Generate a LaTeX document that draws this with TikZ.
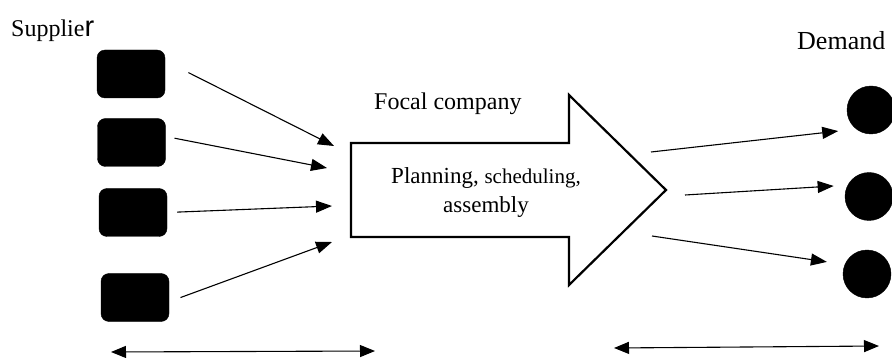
\documentclass[tikz,border=0pt]{standalone}
\usepackage{fontspec}
\setmainfont{Liberation Serif}
\setsansfont{Liberation Sans}
\usetikzlibrary{arrows.meta}

\tikzset{
  supbox/.style={rectangle, rounded corners=8pt, fill=black, draw=black, minimum width=68pt, minimum height=48pt, inner sep=0pt},
  demdot/.style={circle, fill=black, draw=black, minimum size=48pt, inner sep=0pt},
  flow/.style={-{Triangle[length=16pt,width=12pt]}, line width=1.1pt},
  span/.style={{Triangle[length=15pt,width=12pt]}-{Triangle[length=15pt,width=12pt]}, line width=1.1pt},
  lbl/.style={inner sep=0pt, font=\fontsize{24}{29}\selectfont}
}

\begin{document}
\begin{tikzpicture}[x=1pt,y=-1pt]
            \useasboundingbox (0,0) rectangle (892,358);

            % Supplier side
            \node[lbl, anchor=base west] (suplbl) at (11,37) {Supplie{\sffamily\fontsize{29}{30}\selectfont r}};
            \node[supbox] (s1) at (131,74) {};
            \node[supbox] (s2) at (131.5,142.5) {};
            \node[supbox] (s3) at (133,212.5) {};
            \node[supbox] (s4) at (135,297.5) {};

            % Focal company arrow
            \draw[line width=2.2pt, line join=miter] (351,143) -- (569,143) -- (569,95) -- (666,190) -- (569,285) -- (569,237) -- (351,237) -- cycle;
            \node[lbl, anchor=base west] (focal) at (374,110) {Focal company};
            \node[lbl, align=center, font=\fontsize{23}{29}\selectfont] (plan) at (486,193) {Planning, {\fontsize{21}{29}\selectfont scheduling,}\\assembly};

            % Demand side
            \node[lbl, anchor=base west, font=\fontsize{26}{30}\selectfont] (demlbl) at (797,50) {Demand};
            \node[demdot] (d1) at (871,110) {};
            \node[demdot] (d2) at (869,196.5) {};
            \node[demdot] (d3) at (867,274) {};

            % Arrow ends on the focal company
            \coordinate (i1) at (334,146);
            \coordinate (i2) at (327,168);
            \coordinate (i3) at (332,206);
            \coordinate (i4) at (332,242);
            \coordinate (o1) at (651,152);
            \coordinate (o2) at (685,195);
            \coordinate (o3) at (652,236);

            % Arrows in
            \draw[flow, shorten <=26pt] (s1.21) -- (i1);
            \draw[flow, shorten <=9pt] (s2.10) -- (i2);
            \draw[flow, shorten <=10pt] (s3.0) -- (i3);
            \draw[flow, shorten <=12pt] (s4.-7) -- (i4);

            % Arrows out
            \draw[flow, shorten >=18pt] (o1) -- (d1.232);
            \draw[flow, shorten >=14pt] (o2) -- (d2.152);
            \draw[flow, shorten >=18pt] (o3) -- (d3.157);

            % Spans below
            \coordinate (la) at (111,352);
            \coordinate (lb) at (375,351);
            \coordinate (ra) at (614,348);
            \coordinate (rb) at (879,346);
            \draw[span] (la) -- (lb);
            \draw[span] (ra) -- (rb);
        \end{tikzpicture}
\end{document}
